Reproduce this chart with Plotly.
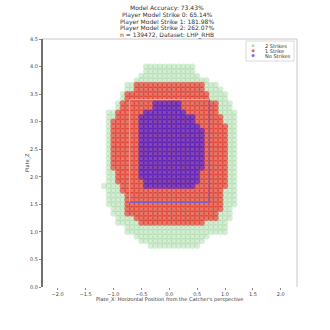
import numpy as np
import plotly.graph_objects as go

# ---- data (row height in inches, extents in feet) ----
row_in = [48, 47, 46, 45, 44, 43, 42, 41, 40, 39, 38, 37, 36, 35, 34, 33, 32, 31, 30, 29,
          28, 27, 26, 25, 24, 23, 22, 21, 20, 19, 18, 17, 16, 15, 14, 13, 12, 11, 10, 9]
green_left = [-0.49, -0.49, -0.58, -0.67, -0.82, -0.82, -0.91, -0.91, -1.03, -1.03,
              -1.15, -1.15, -1.19, -1.19, -1.19, -1.19, -1.19, -1.19, -1.19, -1.19,
              -1.19, -1.19, -1.19, -1.19, -1.19, -1.19, -1.24, -1.19, -1.19, -1.19,
              -1.15, -1.09, -1.09, -1.03, -1.03, -0.85, -0.85, -0.67, -0.56, -0.45]
green_right = [0.47, 0.50, 0.61, 0.73, 0.95, 1.00, 1.06, 1.12, 1.20, 1.20,
               1.26, 1.26, 1.26, 1.28, 1.28, 1.28, 1.28, 1.28, 1.28, 1.28,
               1.28, 1.28, 1.28, 1.28, 1.28, 1.24, 1.24, 1.24, 1.21, 1.21,
               1.21, 1.15, 1.15, 1.15, 1.09, 1.09, 1.09, 0.73, 0.65, 0.55]
red_left = [None, None, None, None, -0.70, -0.70, -0.82, -0.82, -0.89, -0.89,
            -0.97, -0.97, -1.09, -1.09, -1.09, -1.09, -1.09, -1.09, -1.09, -1.09,
            -1.09, -1.09, -1.09, -1.03, -1.03, -1.03, -0.91, -0.91, -0.85, -0.85,
            -0.82, -0.82, -0.82, -0.70, -0.61, None, None, None, None, None]
red_right = [None, None, None, None, 0.68, 0.68, 0.73, 0.73, 0.91, 0.91,
             0.91, 1.00, 1.00, 1.09, 1.12, 1.12, 1.12, 1.12, 1.12, 1.12,
             1.12, 1.12, 1.12, 1.12, 1.12, 1.12, 1.12, 1.03, 1.03, 1.00,
             1.00, 1.00, 0.91, 0.91, 0.70, None, None, None, None, None]
blue_left = [None, None, None, None, None, None, None, None, -0.31, -0.31,
             -0.46, -0.61, -0.61, -0.61, -0.61, -0.61, -0.61, -0.61, -0.61, -0.61,
             -0.61, -0.61, -0.61, -0.61, -0.55, -0.49, -0.46, None, None, None,
             None, None, None, None, None, None, None, None, None, None]
blue_right = [None, None, None, None, None, None, None, None, 0.29, 0.29,
              0.32, 0.47, 0.47, 0.56, 0.65, 0.65, 0.65, 0.65, 0.65, 0.65,
              0.65, 0.65, 0.65, 0.61, 0.61, 0.56, 0.47, None, None, None,
              None, None, None, None, None, None, None, None, None, None]

zone_x = [-0.71, 0.72]
zone_z = [1.54, 3.40]

title_lines = ["Model Accuracy: 73.43%",
               "Player Model Strike 0: 65.14%",
               "Player Model Strike 1: 181.98%",
               "Player Model Strike 2: 262.07%",
               "n = 139472, Dataset: LHP_RHB"]
legend_labels = ["2 Strikes", "1 Strike", "No Strikes"]
x_ticks = [-2.0, -1.5, -1.0, -0.5, 0.0, 0.5, 1.0, 1.5, 2.0]
y_ticks = [0.0, 0.5, 1.0, 1.5, 2.0, 2.5, 3.0, 3.5, 4.0, 4.5]

grid_x = np.arange(-30, 31) / 12.0


def expand(lefts, rights):
    xs, ys = [], []
    for r, lo, hi in zip(row_in, lefts, rights):
        if lo is None:
            continue
        sel = grid_x[(grid_x >= lo + 0.04) & (grid_x <= hi - 0.04)]
        xs.extend(sel.tolist())
        ys.extend([r / 12.0] * len(sel))
    return xs, ys


fig = go.Figure()
series = [
    (green_left, green_right, "rgb(115,195,115)", 0.30),
    (red_left, red_right, "rgb(238,40,32)", 0.58),
    (blue_left, blue_right, "rgb(60,30,225)", 0.55),
]
for lo, hi, col, op in series:
    xs, ys = expand(lo, hi)
    fig.add_trace(go.Scatter(x=xs, y=ys, mode="markers",
                             marker=dict(symbol="circle", size=6.2, color=col, opacity=op,
                                         line=dict(width=0)),
                             showlegend=False, hoverinfo="skip"))

# strike zone
fig.add_trace(go.Scatter(x=[zone_x[0], zone_x[0], zone_x[1]], y=[zone_z[0], zone_z[1], zone_z[1]],
                         mode="lines", line=dict(color="rgba(225,225,255,0.6)", width=1),
                         showlegend=False, hoverinfo="skip"))
fig.add_trace(go.Scatter(x=[zone_x[0], zone_x[1], zone_x[1]], y=[zone_z[0], zone_z[0], zone_z[1]],
                         mode="lines", line=dict(color="rgb(85,100,240)", width=1.3),
                         showlegend=False, hoverinfo="skip"))

PW, PH, L, T = 255.0, 248.0, 42.0, 39.0


def px(xp):
    return (xp - L) / PW


def py(yp):
    return (T + PH - yp) / PH


annotations = []
title_y = [8.5, 15.0, 21.5, 28.0, 34.5]
for txt, yy in zip(title_lines, title_y):
    annotations.append(dict(text=txt, x=px(167), y=py(yy), xref="paper", yref="paper",
                            showarrow=False, xanchor="center", yanchor="middle",
                            font=dict(size=6, color="#333", family="DejaVu Sans")))

shapes = []
# legend box
shapes.append(dict(type="rect", xref="paper", yref="paper", x0=px(246), x1=px(294),
                   y0=py(61), y1=py(41), line=dict(color="#d0d0d0", width=0.8),
                   fillcolor="rgba(255,255,255,0.85)", layer="above"))
leg_cols = ["rgb(178,222,178)", "rgb(240,95,90)", "rgb(110,110,240)"]
leg_y = [45.7, 50.7, 55.5]
for lab, col, yy in zip(legend_labels, leg_cols, leg_y):
    shapes.append(dict(type="circle", xref="paper", yref="paper",
                       x0=px(251.6), x1=px(254.6), y0=py(yy + 1.5), y1=py(yy - 1.5),
                       fillcolor=col, line=dict(width=0), layer="above"))
    annotations.append(dict(text=lab, x=px(262.5), y=py(yy), xref="paper", yref="paper",
                            showarrow=False, xanchor="left", yanchor="middle",
                            font=dict(size=5, color="#333", family="DejaVu Sans")))

# spines
shapes.append(dict(type="line", xref="paper", yref="paper", x0=0, x1=1, y0=1, y1=1,
                   line=dict(color="#c8c8c8", width=1)))
shapes.append(dict(type="line", xref="paper", yref="paper", x0=1, x1=1, y0=0, y1=1,
                   line=dict(color="#c8c8c8", width=1)))
shapes.append(dict(type="line", xref="paper", yref="paper", x0=0, x1=0, y0=0, y1=1,
                   line=dict(color="#222", width=1.3)))

annotations.append(dict(text="Plate_X: Horizontal Position from the Catcher's perspective",
                        x=px(169), y=py(299), xref="paper", yref="paper", showarrow=False,
                        xanchor="center", yanchor="middle",
                        font=dict(size=5, color="#333", family="DejaVu Sans")))
annotations.append(dict(text="Plate_Z", x=px(27), y=py(163), xref="paper", yref="paper",
                        showarrow=False, textangle=-90, xanchor="center", yanchor="middle",
                        font=dict(size=5, color="#333", family="DejaVu Sans")))

fig.update_layout(
    width=330, height=330, margin=dict(l=42, r=33, t=39, b=43),
    paper_bgcolor="white", plot_bgcolor="white",
    annotations=annotations, shapes=shapes, showlegend=False,
    xaxis=dict(range=[-2.28, 2.29], tickvals=x_ticks,
               ticktext=[("\u2212" if v < 0 else "") + f"{abs(v):.1f}" for v in x_ticks],
               showgrid=False, zeroline=False, showline=False, ticks="outside", ticklen=2,
               tickcolor="#888", tickfont=dict(size=5, color="#444", family="DejaVu Sans")),
    yaxis=dict(range=[0, 4.5], tickvals=y_ticks, ticktext=[f"{v:.1f}" for v in y_ticks],
               showgrid=False, zeroline=False, showline=False, ticks="outside", ticklen=2,
               tickcolor="#888", tickfont=dict(size=5, color="#444", family="DejaVu Sans")),
)

fig.write_html("out.html")
